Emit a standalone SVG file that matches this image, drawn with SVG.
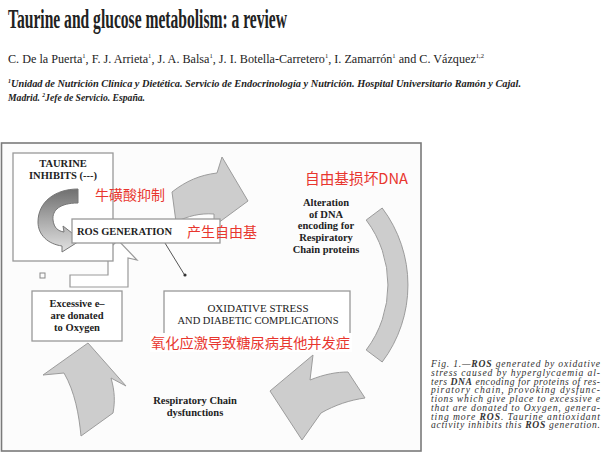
<svg xmlns="http://www.w3.org/2000/svg" width="610" height="462" viewBox="0 0 610 462">
<defs>
<style>
text{font-family:'Liberation Serif','DejaVu Serif',serif}
.serif{fill:#222}
.b{font-weight:bold}
.lab{font-weight:bold;font-size:10.5px;fill:#222;text-anchor:middle}
.cn{font-family:'Noto Sans CJK SC','Noto Sans',sans-serif;fill:#e8362e}
.box{fill:#fff;stroke:#999;stroke-width:1.3}
.garrow{fill:#cdcdcd;stroke:#9c9c9c;stroke-width:1}
.cap{font-style:italic;font-size:9.6px;fill:#333}
</style>
<linearGradient id="cg" x1="0" y1="0" x2="0" y2="1">
<stop offset="0" stop-color="#6f6f6f"/>
<stop offset="0.5" stop-color="#aaa"/>
<stop offset="1" stop-color="#e2e2e2"/>
</linearGradient>
</defs>
<rect width="610" height="462" fill="#fff"/>

<g id="header">
<text class="serif b" x="8" y="28" font-size="27" textLength="279" lengthAdjust="spacingAndGlyphs">Taurine and glucose metabolism: a review</text>
<text class="serif" x="8" y="63" font-size="13" textLength="476" lengthAdjust="spacingAndGlyphs">C. De la Puerta<tspan font-size="7" dy="-5">1</tspan><tspan dy="5">, F. J. Arrieta</tspan><tspan font-size="7" dy="-5">1</tspan><tspan dy="5">, J. A. Balsa</tspan><tspan font-size="7" dy="-5">1</tspan><tspan dy="5">, J. I. Botella-Carretero</tspan><tspan font-size="7" dy="-5">1</tspan><tspan dy="5">, I. Zamarrón</tspan><tspan font-size="7" dy="-5">1</tspan><tspan dy="5"> and C. Vázquez</tspan><tspan font-size="7" dy="-5">1,2</tspan></text>
<text class="serif b" x="8" y="87" font-size="10.5" font-style="italic" textLength="513" lengthAdjust="spacingAndGlyphs" fill="#333"><tspan font-size="6" dy="-4">1</tspan><tspan dy="4">Unidad de Nutrición Clínica y Dietética. Servicio de Endocrinología y Nutrición. Hospital Universitario Ramón y Cajal.</tspan></text>
<text class="serif b" x="8" y="101" font-size="10.5" font-style="italic" textLength="137" lengthAdjust="spacingAndGlyphs" fill="#333">Madrid. <tspan font-size="6" dy="-4">2</tspan><tspan dy="4">Jefe de Servicio. España.</tspan></text>
</g>

<rect id="frame" x="1.5" y="143" width="419.5" height="308" fill="#fcfcfc" stroke="#7a7a7a" stroke-width="1.6"/>

<g id="connectors">
<path class="garrow" d="M366.2,220 A108,108 0 0 1 366.2,350 L382.2,362 A128,128 0 0 0 382.2,208 Z"/>
<path class="garrow" d="M270,391 L313,355 L310,380 C325,374 337,372 348,372 L365,398 C350,400 335,405 321,413 L302,440 Z"/>
<path class="garrow" d="M88,343 L126,386 L111,378 C115,392 115,402 113,413 L81,436 C79,415 75,392 64,373 L43,375 Z"/>
<path class="garrow" d="M172,192 C186,181 200,175 217,173 L222,157 L248,201 L214,226 L214,214 C200,213 188,216 176,222 Z"/>
<path fill="#fff" stroke="#999" stroke-width="1.2" d="M70,287 L70,275 L108,275 L108,258 L100,258 L118,240 L137,260 L128,258 L128,287 Z"/>
<rect x="40" y="273" width="5" height="5" fill="none" stroke="#888" stroke-width="1"/>
<line x1="157" y1="230" x2="184" y2="274" stroke="#555" stroke-width="1"/>
<circle cx="185" cy="275" r="1.6" fill="#333"/>
</g>

<g id="taurine">
<rect class="box" x="13" y="153" width="100" height="108"/>
<text class="lab" x="63" y="167">TAURINE</text>
<text class="lab" x="63" y="179">INHIBITS (---)</text>
<path fill="url(#cg)" stroke="#777" stroke-width="1" d="M78,189 L78,203 C60,203 52,210 53,220 C54,228 58,231 64,232 L63,226 L81,240 L62,252 L62,246 C48,244 38,235 38,222 C38,202 55,189 78,189 Z"/>
<text class="cn" x="95" y="200" font-size="14">牛磺酸抑制</text>
</g>

<g id="ros">
<rect class="box" x="72" y="219" width="148" height="24"/>
<text class="serif b" x="77" y="235" font-size="10.5" textLength="95" lengthAdjust="spacingAndGlyphs">ROS GENERATION</text>
<text class="cn" x="187" y="237" font-size="14">产生自由基</text>
</g>

<g id="alteration">
<text class="cn" x="305" y="184" font-size="15" textLength="103" lengthAdjust="spacingAndGlyphs">自由基损坏DNA</text>
<text class="lab" x="326" y="206">Alteration</text>
<text class="lab" x="326" y="218">of DNA</text>
<text class="lab" x="326" y="229">encoding for</text>
<text class="lab" x="326" y="241">Respiratory</text>
<text class="lab" x="326" y="253">Chain proteins</text>
</g>

<g id="excessive">
<rect class="box" x="32" y="291" width="90" height="50"/>
<text class="lab" x="77" y="307">Excessive e–</text>
<text class="lab" x="77" y="319">are donated</text>
<text class="lab" x="77" y="331">to Oxygen</text>
</g>

<g id="oxidative">
<rect class="box" x="164" y="291" width="186" height="44"/>
<text class="serif" x="258" y="312" font-size="11" text-anchor="middle">OXIDATIVE STRESS</text>
<text class="serif" x="258" y="324" font-size="11" text-anchor="middle" textLength="161" lengthAdjust="spacingAndGlyphs">AND DIABETIC COMPLICATIONS</text>
<rect x="150" y="333" width="202" height="19" fill="#fff"/>
<text class="cn" x="151" y="348" font-size="14" textLength="199" lengthAdjust="spacingAndGlyphs">氧化应激导致糖尿病其他并发症</text>
</g>

<g id="respiratory">
<text class="lab" x="195" y="404">Respiratory Chain</text>
<text class="lab" x="195" y="416">dysfunctions</text>
</g>

<g id="caption">
<text class="cap" x="431" y="367" textLength="169">Fig. 1.—<tspan font-weight="bold">ROS</tspan> generated by oxidative</text>
<text class="cap" x="431" y="376" textLength="169">stress caused by hyperglycaemia al-</text>
<text class="cap" x="431" y="384.7" textLength="169">ters <tspan font-weight="bold">DNA</tspan> encoding for proteins of res-</text>
<text class="cap" x="431" y="393.4" textLength="169">piratory chain, provoking dysfunc-</text>
<text class="cap" x="431" y="402.1" textLength="169">tions which give place to excessive e</text>
<text class="cap" x="431" y="410.8" textLength="169">that are donated to Oxygen, genera-</text>
<text class="cap" x="431" y="419.5" textLength="169">ting more <tspan font-weight="bold">ROS</tspan>. Taurine antioxidant</text>
<text class="cap" x="431" y="428.2" textLength="169">activity inhibits this <tspan font-weight="bold">ROS</tspan> generation.</text>
</g>
</svg>
